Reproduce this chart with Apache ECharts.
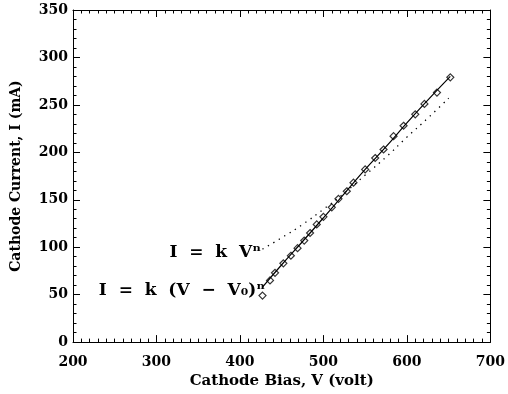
<!DOCTYPE html>
<html>
<head>
<meta charset="utf-8">
<script src="https://cdn.jsdelivr.net/npm/echarts@6/dist/echarts.min.js"></script>
<style>
html,body{margin:0;padding:0;background:#fff;}
#chart{width:508px;height:394px;}
</style>
</head>
<body>
<div id="chart"></div>
<script>
// Measured points (diamonds)
var biasV = [427, 436, 442, 452, 461, 469, 477, 484, 492, 500, 510, 518, 528, 536, 550, 562, 572, 584, 596, 610, 621, 636, 652];
var currentI = [49, 65, 73, 83, 91, 99, 107, 115, 124, 132, 142, 151, 159, 168, 182, 194, 203, 217, 228, 240, 251, 263, 279];
// Fit I = k (V - V0)^n (solid)
var fitV = [427, 450, 475, 500, 525, 550, 575, 600, 625, 652];
var fitI = [58, 81.5, 106, 131, 156.5, 182, 206, 231, 255, 280];
// Fit I = k V^n (dotted)
var powV = [427, 450, 475, 500, 525, 550, 575, 600, 625, 650];
var powI = [98, 110, 124, 140, 157, 176, 195, 216, 236, 257];
// Axes
var xTicks = [200, 300, 400, 500, 600, 700];
var yTicks = [0, 50, 100, 150, 200, 250, 300, 350];
var xTitle = 'Cathode Bias, V (volt)';
var yTitle = 'Cathode Current, I (mA)';
var label1 = 'I  =  k  V\u207F';
var label2 = 'I  =  k  (V  \u2212  V\u2080)\u207F';

function zip(a, b) { return a.map(function (v, i) { return [v, b[i]]; }); }

var FONT = 'DejaVu Serif';
var tickFont = { fontFamily: FONT, fontWeight: 'bold', fontSize: 14, color: '#000' };

function xAx(pos, showLabel) {
  return {
    type: 'value', position: pos, min: xTicks[0], max: xTicks[xTicks.length - 1], interval: 100,
    name: showLabel ? xTitle : '', nameLocation: 'middle', nameGap: 30,
    nameTextStyle: { fontFamily: FONT, fontWeight: 'bold', fontSize: 15, color: '#000' },
    axisLine: { show: true, onZero: false, lineStyle: { color: '#000', width: 1 } },
    axisTick: { show: true, inside: true, length: 7, lineStyle: { color: '#000' } },
    minorTick: { show: true, splitNumber: 10, length: 3.5, lineStyle: { color: '#000' } },
    axisLabel: Object.assign({ show: showLabel, margin: 13 }, tickFont),
    splitLine: { show: false }
  };
}
function yAx(pos, showLabel) {
  return {
    type: 'value', position: pos, min: yTicks[0], max: yTicks[yTicks.length - 1], interval: 50,
    name: showLabel ? yTitle : '', nameLocation: 'middle', nameGap: 50, nameRotate: 90,
    nameTextStyle: { fontFamily: FONT, fontWeight: 'bold', fontSize: 14, color: '#000' },
    axisLine: { show: true, onZero: false, lineStyle: { color: '#000', width: 1 } },
    axisTick: { show: true, inside: true, length: 7, lineStyle: { color: '#000' } },
    minorTick: { show: true, splitNumber: 5, length: 3.5, lineStyle: { color: '#000' } },
    axisLabel: Object.assign({ show: showLabel, margin: 5 }, tickFont),
    splitLine: { show: false }
  };
}

var annStyle = { fontFamily: FONT, fontSize: 17, fontWeight: 'bold', color: '#000' };

var chart = echarts.init(document.getElementById('chart'), null, { renderer: 'canvas' });
chart.setOption({
  animation: false,
  backgroundColor: '#fff',
  grid: { left: 73, right: 15, top: 10, bottom: 50 },
  xAxis: [xAx('bottom', true), xAx('top', false)],
  yAxis: [yAx('left', true), yAx('right', false)],
  series: [
    {
      type: 'line', data: zip(powV, powI), showSymbol: false, smooth: true,
      lineStyle: { color: '#000', width: 1.3, type: [1.3, 5] },
      markPoint: {
        symbol: 'circle', symbolSize: 1, itemStyle: { color: 'rgba(0,0,0,0)' },
        label: Object.assign({ show: true, position: 'left', distance: 0, offset: [-1, 3], formatter: label1 }, annStyle),
        data: [{ coord: [powV[0], powI[0]] }]
      }
    },
    {
      type: 'line', data: zip(fitV, fitI), showSymbol: false, smooth: true,
      lineStyle: { color: '#000', width: 1.2 },
      markPoint: {
        symbol: 'circle', symbolSize: 1, itemStyle: { color: 'rgba(0,0,0,0)' },
        label: Object.assign({ show: true, position: 'left', distance: -2, offset: [1, 4], formatter: label2 }, annStyle),
        data: [{ coord: [fitV[0], fitI[0]] }]
      }
    },
    {
      type: 'scatter', data: zip(biasV, currentI), symbol: 'diamond', symbolSize: 7,
      itemStyle: { color: '#fff', borderColor: '#000', borderWidth: 1.2 }
    }
  ]
});
</script>
</body>
</html>
